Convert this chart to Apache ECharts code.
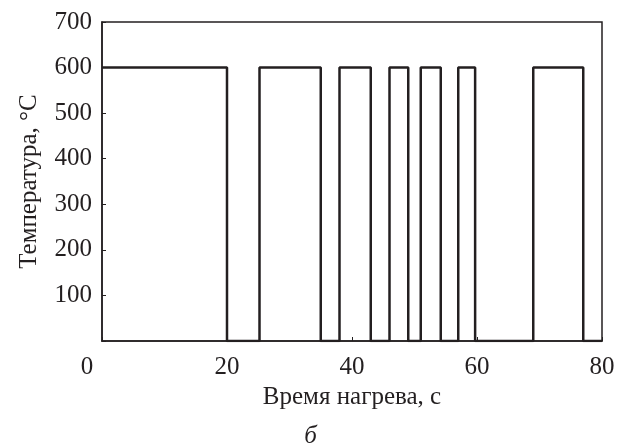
<!DOCTYPE html>
<html><head><meta charset="utf-8">
<script src="https://cdn.jsdelivr.net/npm/echarts@6/dist/echarts.min.js"></script>
<style>html,body{margin:0;padding:0;background:#fff}#c{width:621px;height:445px}</style>
</head><body><div id="c"></div>
<script>
// Switching times (s) and the temperature level that begins at each time (°C)
var switchTimes = [0, 20, 25.2, 35, 38, 43, 46, 49, 51, 54.2, 57, 59.7, 69, 77, 80];
var tempLevels  = [600, 0, 600, 0, 600, 0, 600, 0, 600, 0, 600, 0, 600, 0, 0];
var xTicks = [0, 20, 40, 60, 80];
var yTicks = [100, 200, 300, 400, 500, 600, 700];
var xName = 'Время нагрева, с';
var yName = 'Температура, °C';
var caption = 'б';

var pts = switchTimes.map(function (t, i) { return [t, tempLevels[i]]; });
var ink = '#231f20';
var font = 'Liberation Serif';
var fs = 25;

var chart = echarts.init(document.getElementById('c'));
chart.setOption({
  backgroundColor: '#fff',
  animation: false,
  grid: { left: 102, right: 19, top: 22, bottom: 104, show: true, borderColor: ink, borderWidth: 1.5, backgroundColor: 'transparent' },
  xAxis: {
    type: 'value', min: 0, max: 80, interval: 20,
    name: xName, nameLocation: 'middle', nameGap: 42,
    nameTextStyle: { fontFamily: font, fontSize: fs, color: ink },
    axisLine: { show: true, lineStyle: { color: ink, width: 1.5 } },
    axisTick: { show: true, inside: true, length: 4, lineStyle: { color: ink, width: 1 } },
    splitLine: { show: false },
    axisLabel: {
      fontFamily: font, fontSize: fs, color: ink, margin: 14,
      formatter: function (v) { return xTicks.indexOf(v) < 0 ? '' : (v === 0 ? '{z|' + v + '}' : String(v)); },
      rich: { z: { fontFamily: font, fontSize: fs, color: ink, padding: [0, 30, 0, 0] } }
    }
  },
  yAxis: {
    type: 'value', min: 0, max: 700, interval: 100,
    name: yName, nameLocation: 'middle', nameGap: 60, nameRotate: 90,
    nameTextStyle: { fontFamily: font, fontSize: fs, color: ink },
    axisLine: { show: true, lineStyle: { color: ink, width: 1.5 } },
    axisTick: { show: true, inside: true, length: 4, lineStyle: { color: ink, width: 1 } },
    splitLine: { show: false },
    axisLabel: {
      fontFamily: font, fontSize: fs, color: ink, margin: 10,
      formatter: function (v) { return yTicks.indexOf(v) >= 0 ? String(v) : ''; }
    }
  },
  graphic: [{
    type: 'text', left: 'center', top: 424,
    style: { text: caption, font: 'italic 25px "Liberation Serif"', fill: ink }
  }],
  series: [{
    type: 'line', step: 'end', data: pts, showSymbol: false,
    lineStyle: { color: ink, width: 2.5 }
  }]
});
</script>
</body></html>
